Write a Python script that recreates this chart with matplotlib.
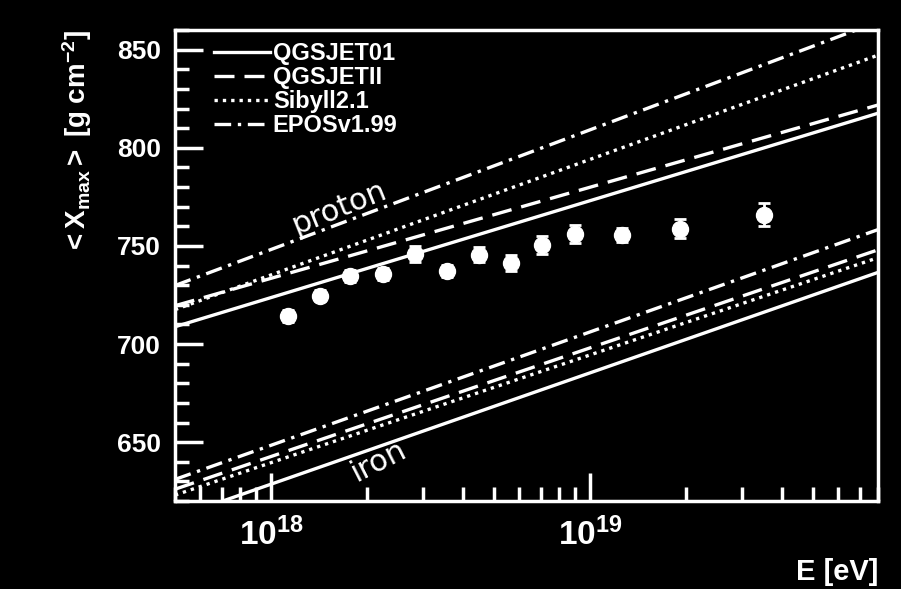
import numpy as np
import matplotlib
matplotlib.use("Agg")
import matplotlib.pyplot as plt
from matplotlib.ticker import LogLocator, NullFormatter, MultipleLocator, FixedLocator

plt.rcParams["mathtext.fontset"] = "custom"
plt.rcParams["mathtext.rm"] = "Liberation Sans"
plt.rcParams["mathtext.bf"] = "Liberation Sans:bold"
plt.rcParams["mathtext.it"] = "Liberation Sans:italic"

# ---- data ----
log_e = [18.054, 18.155, 18.249, 18.350, 18.451, 18.551, 18.652, 18.752, 18.851, 18.953, 19.100, 19.282, 19.547]
xmax = [714.2, 724.7, 734.5, 735.7, 745.9, 737.1, 745.6, 741.3, 750.6, 756.1, 755.4, 758.8, 765.9]
xmax_err = [3.0, 3.0, 3.0, 3.0, 4.0, 3.0, 4.0, 4.0, 4.5, 4.5, 3.5, 5.0, 6.0]

model_names = ["QGSJET01", "QGSJETII", "Sibyll2.1", "EPOSv1.99"]
model_e = [5e17, 8e19]
proton_ends = {"QGSJET01": [708.8, 817.6], "QGSJETII": [719.5, 821.8],
               "Sibyll2.1": [717.5, 847.2], "EPOSv1.99": [729.8, 864.2]}
iron_ends = {"QGSJET01": [611.5, 736.5], "QGSJETII": [626.0, 748.0],
             "Sibyll2.1": [623.0, 744.0], "EPOSv1.99": [631.0, 758.3]}
styles = {"QGSJET01": "-", "QGSJETII": (0, (6, 3)),
          "Sibyll2.1": (0, (1, 1.5)), "EPOSv1.99": (0, (5, 2, 1, 2))}

W = "white"
fig = plt.figure(figsize=(9.01, 5.89), dpi=100, facecolor="black")
ax = fig.add_axes([0.1942, 0.1494, 0.7803, 0.7996], facecolor="black")

for name in model_names:
    ax.plot(model_e, proton_ends[name], color=W, lw=2.4, ls=styles[name], label=name)
    ax.plot(model_e, iron_ends[name], color=W, lw=2.4, ls=styles[name])

energies = [10 ** v for v in log_e]
ax.errorbar(energies, xmax, yerr=xmax_err, fmt="o", color=W, ms=11.5, mec=W,
            elinewidth=2, capsize=4, capthick=2)

ax.set_xscale("log")
ax.set_xlim(5e17, 8e19)
ax.set_ylim(620, 860)

for s in ax.spines.values():
    s.set_color(W)
    s.set_linewidth(2.5)

ax.xaxis.set_major_locator(FixedLocator([1e18, 1e19]))
ax.xaxis.set_minor_locator(LogLocator(base=10, subs=np.arange(2, 10), numticks=20))
ax.xaxis.set_minor_formatter(NullFormatter())
ax.set_xticklabels([r"$\mathbf{10^{18}}$", r"$\mathbf{10^{19}}$"])
ax.yaxis.set_major_locator(MultipleLocator(50))
ax.yaxis.set_minor_locator(MultipleLocator(10))

ax.tick_params(axis="both", which="major", direction="in", length=20, width=2.5,
               colors=W, labelsize=24, pad=12)
ax.tick_params(axis="both", which="minor", direction="in", length=10, width=2.5, colors=W)
ax.tick_params(axis="y", which="major", pad=10, labelsize=19)
for lab in ax.get_yticklabels():
    lab.set_fontweight("bold")
    lab.set_family("Liberation Sans")

ax.set_xlabel("E [eV]", color=W, fontsize=21, fontweight="bold", family="Liberation Sans")
ax.xaxis.set_label_coords(1.0, -0.12)
ax.xaxis.label.set_horizontalalignment("right")
ax.set_ylabel(r"$\mathbf{<X_{max}>\ [g\ cm^{-2}]}$", color=W, fontsize=20)
ax.yaxis.set_label_coords(-0.115, 1.0)
ax.yaxis.label.set_verticalalignment("bottom")
ax.yaxis.label.set_horizontalalignment("right")

ax.text(1.63e18, 769.5, "proton", color=W, fontsize=22, rotation=22,
        ha="center", va="center", family="DejaVu Sans")
ax.text(2.17e18, 640.5, "iron", color=W, fontsize=22, rotation=27,
        ha="center", va="center", family="DejaVu Sans")

leg = ax.legend(loc="upper left", bbox_to_anchor=(0.025, 1.02), frameon=False,
                handlelength=2.4, handletextpad=0.1, labelspacing=0.05,
                prop={"family": "Liberation Sans", "weight": "bold", "size": 17})
for t in leg.get_texts():
    t.set_color(W)

fig.savefig("out.png", dpi=100, facecolor="black")
